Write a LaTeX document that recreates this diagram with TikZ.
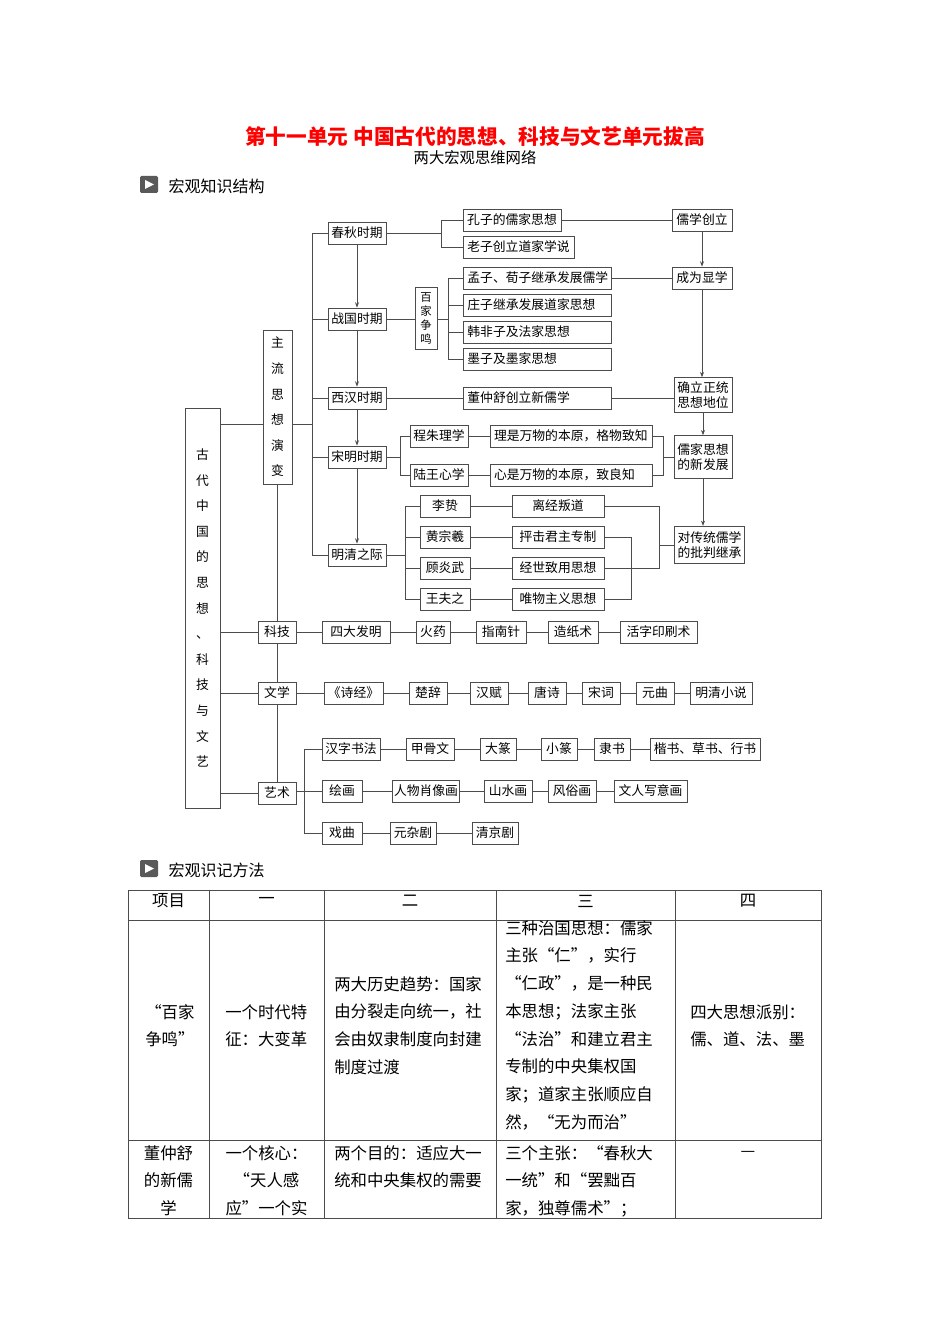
\documentclass[tikz,border=0pt]{standalone}
\usepackage{fontspec}
\setmainfont{Noto Sans CJK SC}
\usetikzlibrary{arrows.meta,calc}
\definecolor{ln}{gray}{0.3}
\begin{document}
\begin{tikzpicture}[x=0.75pt,y=-0.75pt,
  bx/.style={draw=ln,line width=0.6pt,minimum height=16.5pt,inner sep=0pt,font=\fontsize{9.6}{11}\selectfont},
  lbx/.style={bx,text width=105pt,inner xsep=3pt,align=left,anchor=west},
  cn/.style={draw=ln,line width=0.6pt},
  ar/.style={cn,-{Stealth[length=4pt,width=3pt]}},
  tt/.style={inner sep=0pt,font=\fontsize{12.3}{20.8}\selectfont,align=left}]
\useasboundingbox (0,0) rectangle (950,1344);
% titles
\node[text=red,font=\fontsize{15.5}{18}\selectfont\bfseries] (title) at (475,137) {第十一单元\ 中国古代的思想、科技与文艺单元拔高};
\node[font=\fontsize{11.5}{14}\selectfont] (sub) at (475,158) {两大宏观思维网络};
\fill[gray!70!black,rounded corners=1pt] (140,176) rectangle (158,193);
\fill[white] (145,180) -- (145,189) -- (154,184.5) -- cycle;
\node[anchor=west,font=\fontsize{12}{14}\selectfont] (h1) at (164,186) {宏观知识结构};
\fill[gray!70!black,rounded corners=1pt] (140,860) rectangle (158,877);
\fill[white] (145,864) -- (145,873) -- (154,868.5) -- cycle;
\node[anchor=west,font=\fontsize{12}{14}\selectfont] (h2) at (164,870) {宏观识记方法};

% left big boxes
\node[bx,minimum width=26.25pt,minimum height=300pt,align=center,font=\fontsize{9.6}{19.2}\selectfont] (gd) at (202.5,608) {古\\代\\中\\国\\的\\思\\想\\、\\科\\技\\与\\文\\艺};
\node[bx,minimum width=21.75pt,minimum height=115.5pt,align=center,font=\fontsize{9.6}{19.2}\selectfont] (zl) at (277.5,407) {主\\流\\思\\想\\演\\变};
% periods
\foreach \n/\t/\y in {cq/春秋时期/233,zg/战国时期/319,xh/西汉时期/398,sm/宋明时期/457,mq/明清之际/555}
  \node[bx,minimum width=43.5pt] (\n) at (357,\y) {\t};
\node[bx,minimum width=73.5pt] (kz) at (512,220) {孔子的儒家思想};
\node[bx,minimum width=83.25pt] (lz) at (518.5,247) {老子创立道家学说};
\foreach \n/\t/\y in {mx/孟子、荀子继承发展儒学/278,zz/庄子继承发展道家思想/305,hf/韩非子及法家思想/332,mz/墨子及墨家思想/359,dzs/董仲舒创立新儒学/398}
  \node[lbx] (\n) at (463,\y) {\t};
\node[bx,minimum width=16.5pt,minimum height=47pt,align=center,font=\fontsize{8.5}{10.5}\selectfont] (bj) at (426,318.5) {百\\家\\争\\鸣};
\node[bx,minimum width=45pt] (rxcl) at (702,220) {儒学创立};
\node[bx,minimum width=45pt] (cwxx) at (702,278) {成为显学};
\node[bx,minimum width=43.5pt,minimum height=26pt,align=center] (qlzt) at (703,395) {确立正统\\思想地位};
\node[bx,minimum width=43.5pt,minimum height=32pt,align=center] (rjxfz) at (703,457) {儒家思想\\的新发展};
\node[bx,minimum width=53pt,minimum height=28pt,align=center] (dct) at (709.5,545) {对传统儒学\\的批判继承};
\node[bx,minimum width=43.5pt] (czlx) at (439,436) {程朱理学};
\node[bx,minimum width=43.5pt] (lwxx) at (439,475) {陆王心学};
\node[bx,text width=115.5pt,inner xsep=3pt,align=left] (lsw) at (571,436) {理是万物的本原，格物致知};
\node[bx,text width=115.5pt,inner xsep=3pt,align=left] (xsw) at (571,475) {心是万物的本原，致良知};
\foreach \n/\t/\m/\u/\y in {lzh/李贽/ljpd/离经叛道/506,hzx/黄宗羲/pj/抨击君主专制/537,gyw/顾炎武/jszy/经世致用思想/568,wfz/王夫之/wwzy/唯物主义思想/599}{
  \node[bx,minimum width=37.5pt] (\n) at (445,\y) {\t};
  \node[bx,minimum width=69pt] (\m) at (558,\y) {\u};
  \draw[cn] (\n.east) -- (\m.west);}
% periods connections
\coordinate (spT) at (312,233); \coordinate (spB) at (312,555);
\draw[cn] (cq.west) -- (spT) -- (spB) -- (mq.west);
\foreach \n in {zg,xh,sm} \draw[cn] (\n.west) -- (\n.west -| spT);
\coordinate (zlr) at (292,424);
\draw[cn] (zlr) -- (zlr -| spT);
\draw[ar] (cq) -- (zg); \draw[ar] (zg) -- (xh); \draw[ar] (xh) -- (sm); \draw[ar] (sm) -- (mq);
\coordinate (b1) at (441,233);
\draw[cn] (cq.east) -- (b1); \draw[cn] (kz.west) -| (b1); \draw[cn] (lz.west) -| (b1);
\draw[cn] (kz.east) -- (rxcl.west);
\draw[cn] (zg.east) -- (zg.east -| bj.west);
\coordinate (b2) at (448,319);
\draw[cn] (bj.east |- b2) -- (b2);
\foreach \n in {mx,zz,hf,mz} \draw[cn] (\n.west) -| (b2);
\draw[cn] (mx.east) -- (cwxx.west);
\draw[cn] (xh.east) -- (dzs.west);
\draw[cn] (dzs.east) -- (dzs.east -| qlzt.west);
\coordinate (b3) at (400,457);
\draw[cn] (sm.east) -- (b3); \draw[cn] (czlx.west) -| (b3); \draw[cn] (lwxx.west) -| (b3);
\draw[cn] (czlx.east) -- (lsw.west); \draw[cn] (lwxx.east) -- (xsw.west);
\coordinate (b4) at (663,457);
\draw[cn] (lsw.east) -| (b4); \draw[cn] (xsw.east) -| (b4); \draw[cn] (b4) -- (rjxfz.west);
\coordinate (b5) at (405,555);
\draw[cn] (mq.east) -- (b5);
\foreach \n in {lzh,hzx,gyw,wfz} \draw[cn] (\n.west) -| (b5);
\coordinate (b6) at (659,545);
\draw[cn] (ljpd.east) -| (b6); \draw[cn] (jszy.east) -| (b6); \draw[cn] (b6) -- (dct.west);
\coordinate (b7) at (631,568);
\draw[cn] (pj.east) -| (b7); \draw[cn] (wwzy.east) -| (b7);
\draw[ar] (rxcl) -- (cwxx);
\draw[ar] (cwxx.south) -- (cwxx.south |- qlzt.north);
\draw[ar] (qlzt) -- (rjxfz);
\draw[ar] (rjxfz.south) -- (rjxfz.south |- dct.north);
% science, literature, art
\node[bx,minimum width=28.5pt] (kj) at (277,632) {科技};
\node[bx,minimum width=28.5pt] (wx) at (277,693) {文学};
\node[bx,minimum width=28.5pt] (ys) at (277,793) {艺术};
\draw[cn] (zl.south) -- (zl.south |- kj.north);
\draw[cn] (kj) -- (wx); \draw[cn] (wx) -- (ys);
\draw[cn] (gd.east |- zlr) -- (zl.west |- zlr);
\foreach \n in {kj,wx,ys} \draw[cn] (gd.east |- \n) -- (\n.west);
\node[bx,minimum width=51pt] (sdfm) at (356,632) {四大发明};
\node[bx,minimum width=25.5pt] (hy) at (433,632) {火药};
\node[bx,minimum width=37.5pt] (znz) at (501,632) {指南针};
\node[bx,minimum width=37.5pt] (zzs) at (573,632) {造纸术};
\node[bx,minimum width=57.75pt] (hzys) at (658.5,632) {活字印刷术};
\draw[cn] (kj) -- (sdfm) -- (hy) -- (znz) -- (zzs) -- (hzys);
\node[bx,minimum width=44.25pt] (sj) at (353.5,693) {《诗经》};
\node[bx,minimum width=28.5pt] (cc) at (428,693) {楚辞};
\node[bx,minimum width=28.5pt] (hfu) at (489,693) {汉赋};
\node[bx,minimum width=28.5pt] (ts) at (547,693) {唐诗};
\node[bx,minimum width=28.5pt] (sc) at (601,693) {宋词};
\node[bx,minimum width=28.5pt] (yq) at (655,693) {元曲};
\node[bx,minimum width=46.5pt] (mqxs) at (721,693) {明清小说};
\draw[cn] (wx) -- (sj) -- (cc) -- (hfu) -- (ts) -- (sc) -- (yq) -- (mqxs);
\node[bx,minimum width=43.5pt] (hzsf) at (351,749) {汉字书法};
\node[bx,minimum width=36pt] (jgw) at (430,749) {甲骨文};
\node[bx,minimum width=27pt] (dz) at (498,749) {大篆};
\node[bx,minimum width=27pt] (xz) at (559,749) {小篆};
\node[bx,minimum width=27pt] (ls) at (612,749) {隶书};
\node[bx,minimum width=82.5pt] (kscs) at (705,749) {楷书、草书、行书};
\draw[cn] (hzsf) -- (jgw) -- (dz) -- (xz) -- (ls) -- (kscs);
\node[bx,minimum width=30pt] (hh) at (342,791) {绘画};
\node[bx,minimum width=50pt] (rwxx) at (426,791) {人物肖像画};
\node[bx,minimum width=36pt] (ssh) at (508,791) {山水画};
\node[bx,minimum width=36pt] (fsh) at (572,791) {风俗画};
\node[bx,minimum width=54.75pt] (wrxy) at (650.5,791) {文人写意画};
\draw[cn] (hh) -- (rwxx) -- (ssh) -- (fsh) -- (wrxy);
\node[bx,minimum width=30pt] (xq) at (342,833) {戏曲};
\node[bx,minimum width=34.5pt] (yzj) at (413,833) {元杂剧};
\node[bx,minimum width=34.5pt] (qjj) at (495,833) {清京剧};
\draw[cn] (xq) -- (yzj) -- (qjj);
\coordinate (b8) at (304,791);
\draw[cn] (ys.east |- b8) -- (b8);
\draw[cn] (hzsf.west) -| (b8); \draw[cn] (hh.west) -- (b8); \draw[cn] (xq.west) -| (b8);
% table
\draw[ln,line width=0.7pt] (128,890) rectangle (821,1218);
\foreach \x in {209,324,496,675} \draw[ln,line width=0.7pt] (\x,890) -- (\x,1218);
\draw[ln,line width=0.7pt] (128,920) -- (821,920);
\draw[ln,line width=0.7pt] (128,1140) -- (821,1140);
\node[tt] (th1) at (168.5,901) {项目};
\node[tt] (th2) at (266.5,901) {一};
\node[tt] (th3) at (410,901) {二};
\node[tt] (th4) at (585.5,901) {三};
\node[tt] (th5) at (748,901) {四};
\node[tt,anchor=north west] (r11) at (145,1004) {“百家\\争鸣”};
\node[tt,anchor=north west] (r12) at (225,1004) {一个时代特\\征：大变革};
\node[tt,anchor=north west] (r13) at (334,976) {两大历史趋势：国家\\由分裂走向统一，社\\会由奴隶制度向封建\\制度过渡};
\node[tt,anchor=north west] (r14) at (505,920) {三种治国思想：儒家\\主张“仁”，实行\\“仁政”，是一种民\\本思想；法家主张\\“法治”和建立君主\\专制的中央集权国\\家；道家主张顺应自\\然，“无为而治”};
\node[tt,anchor=north west] (r15) at (690,1004) {四大思想派别：\\儒、道、法、墨};
\node[tt,align=center,anchor=north] (r21) at (168.5,1145) {董仲舒\\的新儒\\学};
\node[tt,align=center,anchor=north] (r22) at (266.5,1145) {一个核心：\\“天人感\\应”一个实};
\node[tt,anchor=north west] (r23) at (334,1145) {两个目的：适应大一\\统和中央集权的需要};
\node[tt,anchor=north west] (r24) at (505,1145) {三个主张：“春秋大\\一统”和“罢黜百\\家，独尊儒术”；};
\node[tt] (r25) at (748,1154) {—};
\end{tikzpicture}
\end{document}
